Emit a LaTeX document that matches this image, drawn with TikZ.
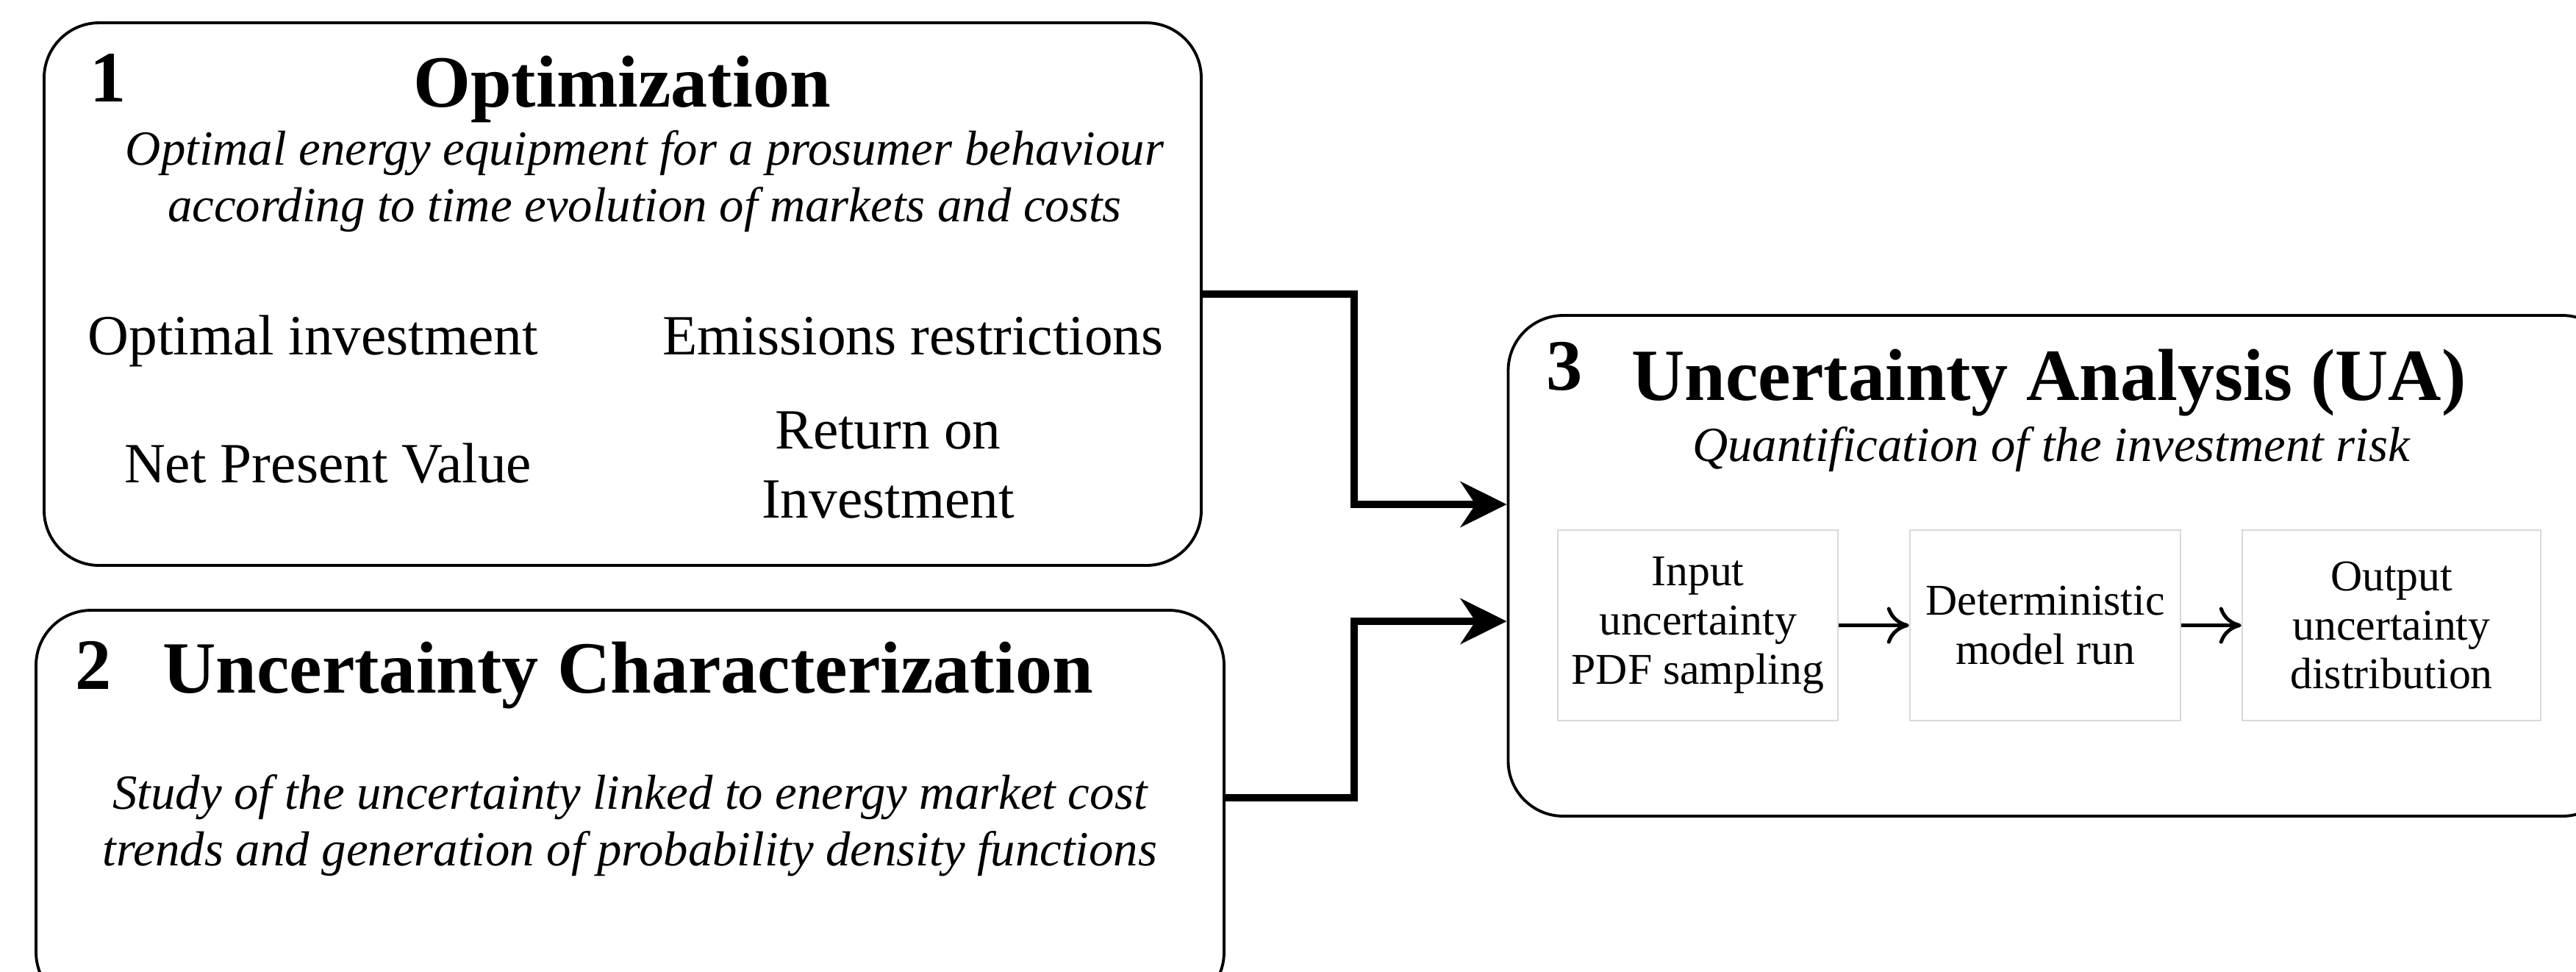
\documentclass[tikz,border=0pt]{standalone}
\usepackage{fontspec}
\setmainfont{Liberation Serif}
\usepackage{tikz}
\usetikzlibrary{arrows.meta, positioning}

\begin{document}
\begin{tikzpicture}[
  panel/.style={rectangle, rounded corners=0.75cm, draw=black, line width=1.1pt,
                fill=white, inner sep=0pt},
  cell/.style={rectangle, draw=gray!30, line width=0.7pt, fill=white,
               minimum height=2.59cm, align=center, inner sep=0pt,
               font=\fontsize{17}{19}\selectfont},
  num/.style={anchor=base, font=\fontsize{28}{32}\selectfont\bfseries},
  head/.style={anchor=base, font=\fontsize{28.5}{32}\selectfont\bfseries},
  note/.style={anchor=base, align=center, font=\fontsize{19}{21.8}\selectfont\itshape},
  item/.style={anchor=base, align=center, font=\fontsize{22}{26.7}\selectfont},
  conn/.style={-{Stealth[length=0.63cm, width=0.62cm]}, line width=2.6pt},
  arrow/.style={-{To[length=0.3cm, width=0.5cm]}, line width=1.4pt},
]
\useasboundingbox (0,0) rectangle (35.04,-13.21);

% the three stages
\node[panel, minimum width=15.74cm, minimum height=7.38cm] (opt) at (8.47,-4.00)  {};
\node[panel, minimum width=16.16cm, minimum height=5.40cm] (uc)  at (8.57,-11.00) {};
\node[panel, minimum width=15.09cm, minimum height=6.81cm] (ua)  at (28.06,-7.695) {};

% stage 1 (multi-line nodes sit on their last baseline)
\node[num]  (n1)      at (1.47,-1.38)  {1};
\node[head] (optT)    at (8.46,-1.45)  {Optimization};
\node[note] (optN)    at (8.77,-3.01)  {Optimal energy equipment for a prosumer behaviour\\according to time evolution of markets and costs};
\node[item] (invest)  at (4.26,-4.82)  {Optimal investment};
\node[item] (emis)    at (12.42,-4.82) {Emissions restrictions};
\node[item] (npv)     at (4.46,-6.56)  {Net Present Value};
\node[item] (roi)     at (12.08,-7.04) {Return on\\Investment};

% stage 2
\node[num]  (n2)      at (1.27,-9.37)  {2};
\node[head] (ucT)     at (8.54,-9.42)  {Uncertainty Characterization};
\node[note] (ucN)     at (8.57,-11.77) {Study of the uncertainty linked to energy market cost\\trends and generation of probability density functions};

% stage 3
\node[num]  (n3)      at (21.28,-5.30) {3};
\node[head] (uaT)     at (27.87,-5.44) {Uncertainty Analysis (UA)};
\node[note] (uaN)     at (27.90,-6.27) {Quantification of the investment risk};

\node[cell, minimum width=3.81cm] (sample) at (23.095,-8.505) {Input\\uncertainty\\PDF sampling};
\node[cell, minimum width=3.68cm] (model)  at (27.82,-8.505)  {Deterministic\\model run};
\node[cell, minimum width=4.06cm] (dist)   at (32.53,-8.505)  {Output\\uncertainty\\distribution};

\draw[arrow] (sample) -- (model);
\draw[arrow] (model)  -- (dist);

% feeds into stage 3
\coordinate (j1) at (18.42,-6.86);
\coordinate (j2) at (18.42,-8.45);
\draw[conn] (opt.east) -| (j1) -- (ua.west |- j1);
\draw[conn] (uc.east |- 0,-10.85) -| (j2) -- (ua.west |- j2);
\end{tikzpicture}
\end{document}
